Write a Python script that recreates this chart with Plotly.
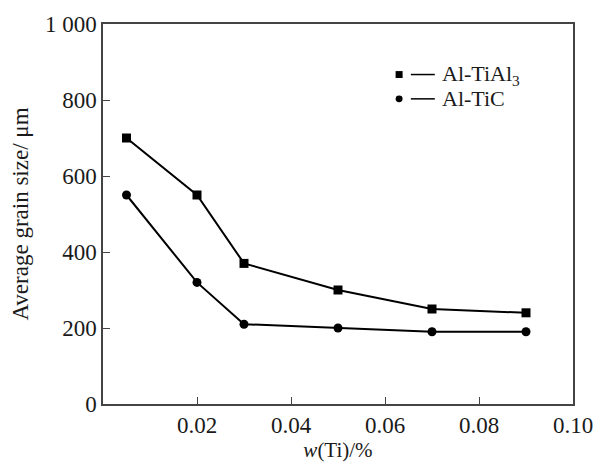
import plotly.graph_objects as go

# Data
w_ti = [0.005, 0.02, 0.03, 0.05, 0.07, 0.09]
al_tial3 = [700, 550, 370, 300, 250, 240]
al_tic = [550, 320, 210, 200, 190, 190]
series_names = ["Al-TiAl<sub>3</sub>", "Al-TiC"]

x_tickvals = [0.02, 0.04, 0.06, 0.08, 0.10]
x_ticktext = ["0.02", "0.04", "0.06", "0.08", "0.10"]
y_tickvals = [0, 200, 400, 600, 800, 1000]
y_ticktext = ["0", "200", "400", "600", "800", "1 000"]

FONT = "Liberation Serif"
AX = "#444444"
TXT = "#1a1a1a"

fig = go.Figure()
fig.add_trace(go.Scatter(x=w_ti, y=al_tial3, mode="lines+markers", name=series_names[0],
                         line=dict(color="black", width=2),
                         marker=dict(symbol="square", size=9, color="black"),
                         showlegend=False))
fig.add_trace(go.Scatter(x=w_ti, y=al_tic, mode="lines+markers", name=series_names[1],
                         line=dict(color="black", width=2),
                         marker=dict(symbol="circle", size=9, color="black"),
                         showlegend=False))

axis_common = dict(showline=True, mirror=True, linecolor=AX, linewidth=1.5,
                   ticks="inside", ticklen=7, tickwidth=1.2, tickcolor=AX,
                   showgrid=False, zeroline=False,
                   tickfont=dict(family=FONT, size=23, color=TXT))

fig.update_xaxes(range=[0, 0.10], tickvals=x_tickvals, ticktext=x_ticktext,
                 title=dict(text="<i>w</i>(Ti)/%", font=dict(family=FONT, size=21, color=TXT),
                            standoff=0), **axis_common)
fig.update_yaxes(range=[0, 1000], tickvals=y_tickvals, ticktext=y_ticktext,
                 title=dict(text="Average grain size/ μm", font=dict(family=FONT, size=23, color=TXT),
                            standoff=10), **axis_common)

# Custom legend (marker, dash, label) in paper coordinates
legend_rows = [(0.867, "square"), (0.803, "circle")]
for (yp, sym), name in zip(legend_rows, series_names):
    x0 = 0.630
    s = 3.5 / 470
    sy = 3.5 / 384.5
    if sym == "square":
        fig.add_shape(type="rect", xref="paper", yref="paper", x0=x0 - s, x1=x0 + s,
                      y0=yp - sy, y1=yp + sy, fillcolor="black", line=dict(width=0))
    else:
        fig.add_shape(type="circle", xref="paper", yref="paper", x0=x0 - s, x1=x0 + s,
                      y0=yp - sy, y1=yp + sy, fillcolor="black", line=dict(width=0))
    fig.add_shape(type="line", xref="paper", yref="paper", x0=0.655, x1=0.706,
                  y0=yp, y1=yp, line=dict(color="black", width=1.5))
    fig.add_annotation(xref="paper", yref="paper", x=0.716, y=yp, text=name,
                       showarrow=False, xanchor="left", yanchor="middle",
                       font=dict(family=FONT, size=22, color=TXT))

fig.update_layout(width=608, height=465, margin=dict(l=103, r=35, t=21, b=60),
                  plot_bgcolor="white", paper_bgcolor="white",
                  font=dict(family=FONT, color=TXT))

fig.write_html("out.html")
